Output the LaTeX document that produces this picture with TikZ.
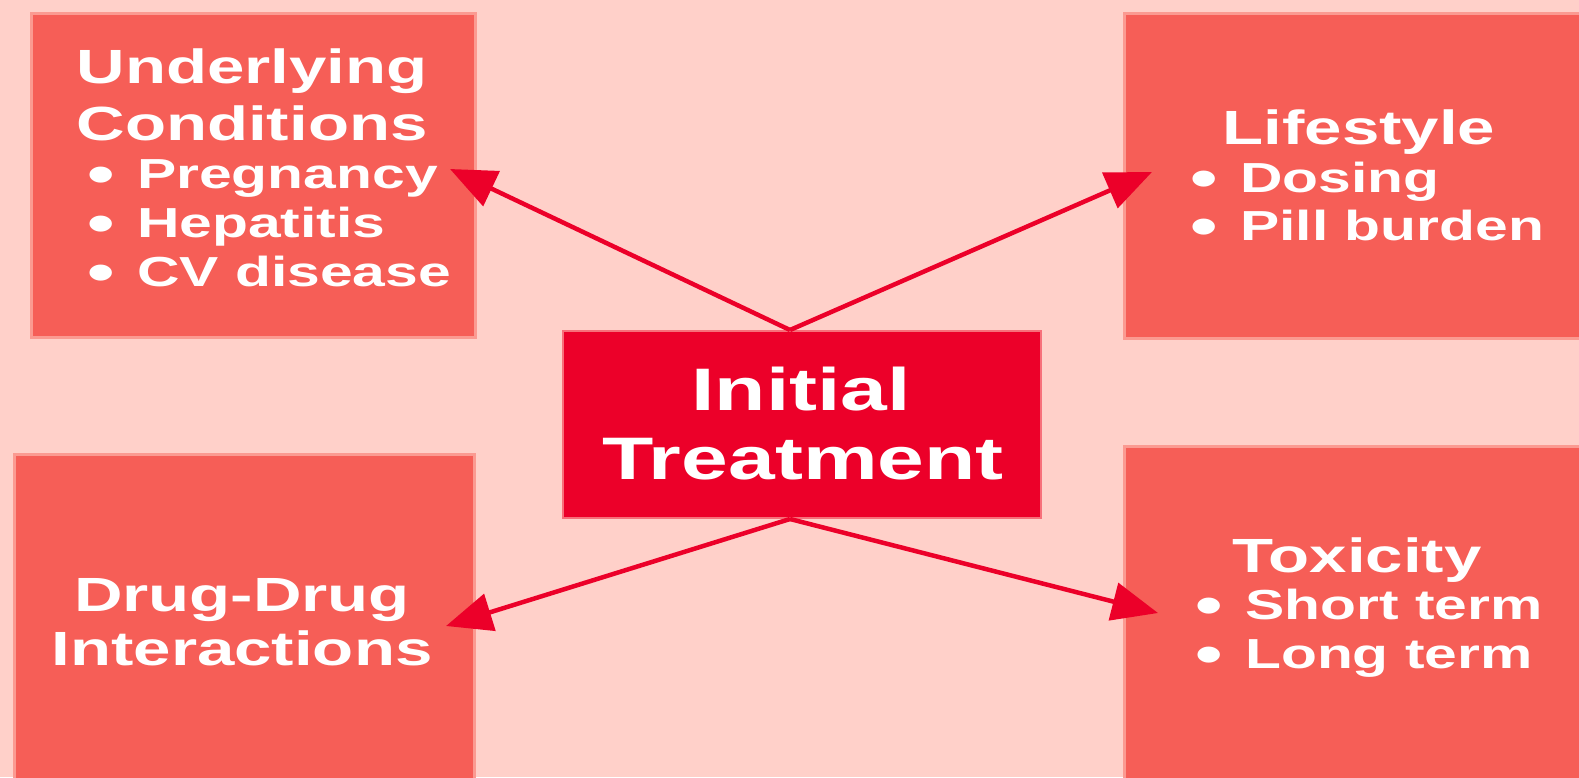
\documentclass[tikz,border=0pt]{standalone}
\usepackage{fontspec}
\setmainfont{Liberation Sans}[FakeStretch=1.4]
\usetikzlibrary{arrows.meta}
\definecolor{bg}{HTML}{FFD0C9}
\definecolor{boxc}{HTML}{F65E57}
\definecolor{boxedge}{HTML}{FB9A91}
\definecolor{core}{HTML}{EC0029}
\definecolor{coreedge}{HTML}{F7707A}
\newcommand{\bigbul}{\raisebox{-5pt}{\scalebox{1.33}{•}}\hspace{22.6pt}}
\begin{document}
\begin{tikzpicture}[x=1pt,y=-1pt,
  box/.style={rectangle, fill=boxc, draw=boxedge, line width=3pt, inner sep=0pt, anchor=north west},
  corebox/.style={rectangle, fill=core, draw=coreedge, line width=2pt, inner sep=0pt, anchor=north west},
  ttl/.style={text=white, font=\fontsize{48}{48}\selectfont\bfseries, anchor=base, inner sep=0pt},
  bigttl/.style={text=white, font=\fontsize{60}{60}\selectfont\bfseries, anchor=base, inner sep=0pt},
  itm/.style={text=white, font=\fontsize{42}{42}\selectfont\bfseries, anchor=base west, inner sep=0pt},
  conn/.style={draw=core, line width=4.5pt, -{Triangle[length=46pt,width=38pt]}}
]
\useasboundingbox (0,0) rectangle (1579,777);
\fill[bg] (0,0) rectangle (1579,777);
\clip (0,0) rectangle (1579,777);

% boxes
\node[box, minimum width=444pt, minimum height=324pt] (uc) at (30,12) {};
\node[box, minimum width=470pt, minimum height=325pt] (ls) at (1123,12) {};
\node[box, minimum width=460pt, minimum height=340pt] (dd) at (13,453) {};
\node[box, minimum width=470pt, minimum height=345pt] (tx) at (1123,445) {};
\node[corebox, minimum width=478pt, minimum height=187pt] (it) at (562,330) {};

% top-left text
\node[ttl] (uc1) at (252,83) {Underlying};
\node[ttl] (uc2) at (252,140) {Conditions};
\node[itm] (uct1) at (87,188) {\bigbul Pregnancy};
\node[itm] (uct2) at (87,237) {\bigbul Hepatitis};
\node[itm] (uct3) at (87,286) {\bigbul CV disease};

% top-right text
\node[ttl] (ls1) at (1359,144) {Lifestyle};
\node[itm] (lst1) at (1190,192) {\bigbul Dosing};
\node[itm] (lst2) at (1190,240) {\bigbul Pill burden};

% bottom-left text
\node[ttl] (dd1) at (242,611) {Drug-Drug};
\node[ttl] (dd2) at (242,665) {Interactions};

% bottom-right text
\node[ttl] (tx1) at (1357,572) {Toxicity};
\node[itm] (txt1) at (1195,619) {\bigbul Short term};
\node[itm] (txt2) at (1195,668) {\bigbul Long term};

% center text
\node[bigttl] (it1) at (801,410) {Initial};
\node[bigttl] (it2) at (803,479) {Treatment};

% connectors
\coordinate (otop) at ([xshift=-12pt]it.north);
\coordinate (obot) at ([xshift=-12pt]it.south);
\coordinate (tuc) at (450,169);
\coordinate (tls) at (1152,172);
\coordinate (tdd) at (446,626);
\coordinate (ttx) at (1158,613);
\draw[conn] (otop) -- (tuc);
\draw[conn] (otop) -- (tls);
\draw[conn] (obot) -- (tdd);
\draw[conn] (obot) -- (ttx);
\end{tikzpicture}
\end{document}
